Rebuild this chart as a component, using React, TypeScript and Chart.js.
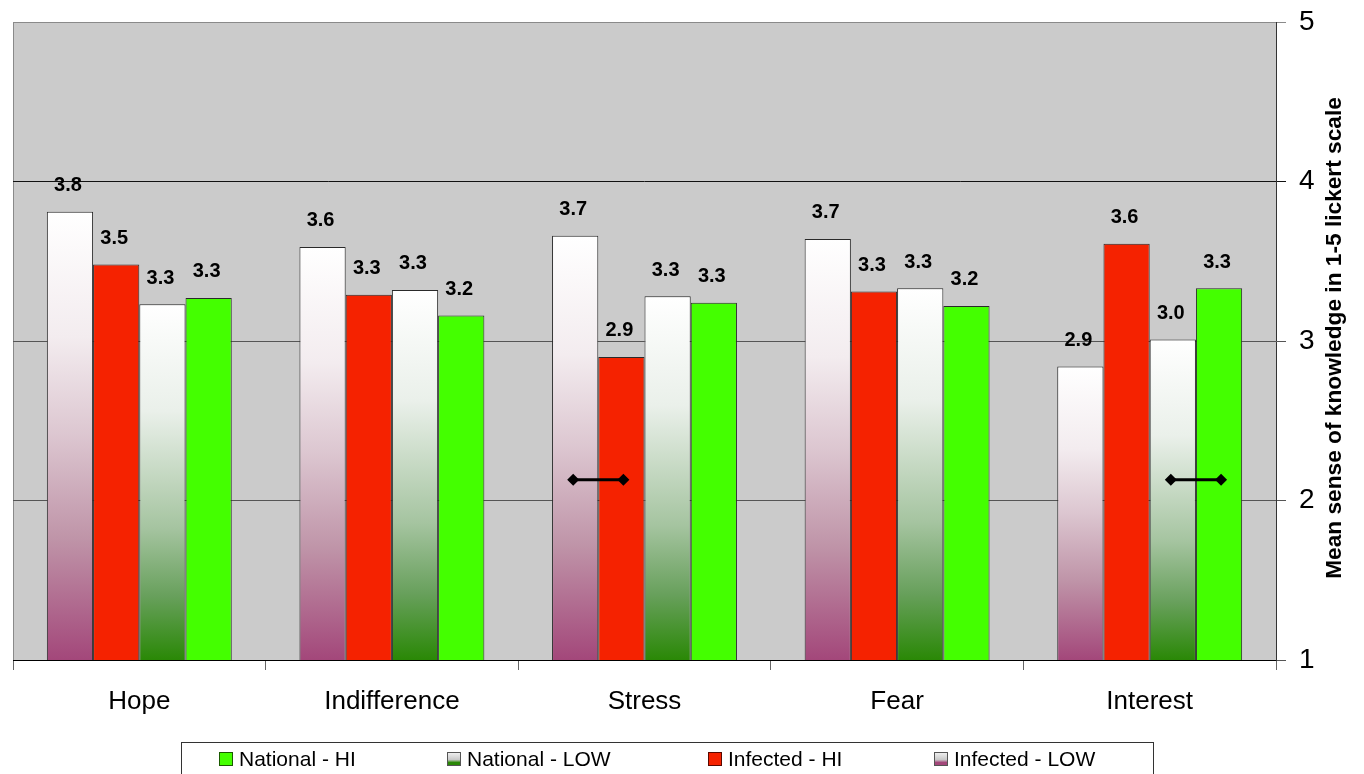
import React, { useEffect, useRef } from 'react';
import { Chart, registerables } from 'chart.js';

Chart.register(...registerables);

const categories = ['Hope', 'Indifference', 'Stress', 'Fear', 'Interest'];

const infectedLow = [3.81, 3.59, 3.66, 3.64, 2.84];
const infectedHi = [3.48, 3.29, 2.90, 3.31, 3.61];
const nationalLow = [3.23, 3.32, 3.28, 3.33, 3.01];
const nationalHi = [3.27, 3.16, 3.24, 3.22, 3.33];

const infectedLowLabels = ['3.8', '3.6', '3.7', '3.7', '2.9'];
const infectedHiLabels = ['3.5', '3.3', '2.9', '3.3', '3.6'];
const nationalLowLabels = ['3.3', '3.3', '3.3', '3.3', '3.0'];
const nationalHiLabels = ['3.3', '3.2', '3.3', '3.2', '3.3'];

const yTicks = [1, 2, 3, 4, 5];

// connector arrows (category index, from series, to series, value)
const arrowCategory = [2, 4];
const arrowFrom = [0, 2];
const arrowTo = [1, 3];
const arrowValue = [2.13, 2.13];

const FONT = "'Liberation Sans', Arial, sans-serif";

const purpleStops: [number, string][] = [
  [0, '#FFFFFF'],
  [0.28, '#F3ECEF'],
  [0.5, '#DCC6D0'],
  [0.73, '#BF94A8'],
  [1, '#A3477A'],
];
const greenStops: [number, string][] = [
  [0, '#FFFFFF'],
  [0.3, '#EAF0EA'],
  [0.63, '#A5C4A0'],
  [0.82, '#68A05C'],
  [1, '#2A8806'],
];

function gradientFill(stops: [number, string][], fallback: string) {
  return (ctx: any) => {
    const chart = ctx.chart;
    if (!chart.chartArea || ctx.type !== 'data') return fallback;
    const ys = chart.scales.y;
    if (!ys) return fallback;
    const top = ys.getPixelForValue(ctx.raw);
    const bot = ys.getPixelForValue(ys.min);
    if (!isFinite(top) || !isFinite(bot) || top === bot) return fallback;
    const g = chart.ctx.createLinearGradient(0, top, 0, bot);
    stops.forEach(([o, c]) => g.addColorStop(o, c));
    return g;
  };
}

const bgPlugin = {
  id: 'plotBg',
  beforeDraw(chart: any) {
    const { ctx, chartArea: a } = chart;
    ctx.save();
    ctx.fillStyle = '#CBCBCB';
    ctx.fillRect(a.left, a.top, a.right - a.left, a.bottom - a.top);
    ctx.strokeStyle = '#8A8A8A';
    ctx.lineWidth = 1;
    ctx.beginPath();
    ctx.moveTo(a.left + 0.5, a.bottom);
    ctx.lineTo(a.left + 0.5, a.top + 0.5);
    ctx.lineTo(a.right, a.top + 0.5);
    ctx.stroke();
    ctx.restore();
  },
};

const labelPlugin = {
  id: 'valueLabels',
  afterDatasetsDraw(chart: any) {
    const { ctx } = chart;
    ctx.save();
    ctx.font = `bold 20px ${FONT}`;
    ctx.fillStyle = '#000';
    ctx.textAlign = 'center';
    ctx.textBaseline = 'middle';
    chart.data.datasets.forEach((ds: any, i: number) => {
      const meta = chart.getDatasetMeta(i);
      meta.data.forEach((el: any, j: number) => {
        const { x, y } = el.getProps(['x', 'y'], true);
        ctx.fillText(ds.valueLabels[j], x - 2, y - 26);
      });
    });
    ctx.restore();
  },
};

function diamond(ctx: CanvasRenderingContext2D, x: number, y: number, r: number) {
  ctx.beginPath();
  ctx.moveTo(x - r, y);
  ctx.lineTo(x, y - r);
  ctx.lineTo(x + r, y);
  ctx.lineTo(x, y + r);
  ctx.closePath();
  ctx.fill();
}

const arrowPlugin = {
  id: 'arrows',
  afterDatasetsDraw(chart: any) {
    const { ctx } = chart;
    const ys = chart.scales.y;
    ctx.save();
    ctx.strokeStyle = '#000';
    ctx.fillStyle = '#000';
    ctx.lineWidth = 3;
    arrowCategory.forEach((c, k) => {
      const x1 = chart.getDatasetMeta(arrowFrom[k]).data[c].x - 2;
      const x2 = chart.getDatasetMeta(arrowTo[k]).data[c].x + 2;
      const y = ys.getPixelForValue(arrowValue[k]);
      ctx.beginPath();
      ctx.moveTo(x1, y);
      ctx.lineTo(x2, y);
      ctx.stroke();
      diamond(ctx, x1, y, 6);
      diamond(ctx, x2, y, 6);
    });
    ctx.restore();
  },
};

const titlePlugin = {
  id: 'yTitle',
  afterDraw(chart: any) {
    const { ctx, chartArea: a } = chart;
    ctx.save();
    ctx.translate(1335, (a.top + a.bottom) / 2 - 3);
    ctx.rotate(-Math.PI / 2);
    ctx.font = `bold 22.7px ${FONT}`;
    ctx.fillStyle = '#000';
    ctx.textAlign = 'center';
    ctx.textBaseline = 'middle';
    ctx.fillText('Mean sense of knowledge in 1-5 lickert scale', 0, 0);
    ctx.restore();
  },
};

const legendOrder = [3, 2, 1, 0];
const legendSwatchX = [219, 447, 708, 934];

const legendPlugin = {
  id: 'boxLegend',
  afterDraw(chart: any) {
    const { ctx } = chart;
    ctx.save();
    ctx.strokeStyle = '#333';
    ctx.lineWidth = 1;
    ctx.strokeRect(181.5, 742.5, 972, 60);
    ctx.font = `21px ${FONT}`;
    ctx.textBaseline = 'middle';
    ctx.textAlign = 'left';
    legendOrder.forEach((di, k) => {
      const ds = chart.data.datasets[di];
      const x = legendSwatchX[k];
      const y = 752;
      const s = 14;
      if (ds.swatchStops) {
        const g = ctx.createLinearGradient(0, y, 0, y + s);
        g.addColorStop(0, '#F4F4F4');
        g.addColorStop(0.55, '#C8C8C8');
        g.addColorStop(0.75, ds.swatchColor);
        g.addColorStop(1, ds.swatchColor);
        ctx.fillStyle = g;
      } else {
        ctx.fillStyle = ds.swatchColor;
      }
      ctx.fillRect(x, y, s, s);
      ctx.strokeStyle = ds.swatchBorder;
      ctx.lineWidth = 1;
      ctx.strokeRect(x + 0.5, y + 0.5, s - 1, s - 1);
      ctx.fillStyle = '#000';
      ctx.fillText(ds.label, x + 20, y + 8);
    });
    ctx.restore();
  },
};

export default function App() {
  const ref = useRef<HTMLCanvasElement | null>(null);

  useEffect(() => {
    if (!ref.current) return;
    const chart = new Chart(ref.current, {
      type: 'bar',
      data: {
        labels: categories,
        datasets: [
          {
            label: 'Infected - LOW',
            data: infectedLow,
            backgroundColor: gradientFill(purpleStops, '#D8B8C8'),
            borderColor: '#2A2A2A',
            borderWidth: 1,
            valueLabels: infectedLowLabels,
            swatchStops: true,
            swatchColor: '#A3477A',
            swatchBorder: '#555',
          } as any,
          {
            label: 'Infected - HI',
            data: infectedHi,
            backgroundColor: '#F52200',
            borderColor: '#2A2A2A',
            borderWidth: 1,
            valueLabels: infectedHiLabels,
            swatchColor: '#F52200',
            swatchBorder: '#5A0800',
          } as any,
          {
            label: 'National - LOW',
            data: nationalLow,
            backgroundColor: gradientFill(greenStops, '#B8D0B8'),
            borderColor: '#2A2A2A',
            borderWidth: 1,
            valueLabels: nationalLowLabels,
            swatchStops: true,
            swatchColor: '#2A8806',
            swatchBorder: '#555',
          } as any,
          {
            label: 'National - HI',
            data: nationalHi,
            backgroundColor: '#44FF00',
            borderColor: '#2A2A2A',
            borderWidth: 1,
            valueLabels: nationalHiLabels,
            swatchColor: '#44FF00',
            swatchBorder: '#1A5A00',
          } as any,
        ],
      },
      options: {
        animation: false,
        responsive: false,
        devicePixelRatio: 1,
        layout: { padding: { left: 13, top: 22, right: 0, bottom: 0 } },
        datasets: {
          bar: { categoryPercentage: 0.732, barPercentage: 1 },
        },
        plugins: {
          legend: { display: false },
          tooltip: { enabled: false },
          title: { display: false },
        },
        scales: {
          x: {
            type: 'category',
            offset: true,
            grid: {
              offset: true,
              drawOnChartArea: false,
              drawTicks: true,
              tickLength: 10,
              color: '#666',
            },
            border: { display: true, color: '#000', width: 1 },
            ticks: {
              color: '#000',
              font: { family: FONT, size: 26 },
              padding: 16,
              maxRotation: 0,
            },
            afterFit: (scale: any) => {
              scale.height = 114;
              scale.paddingLeft = 0;
              scale.paddingRight = 0;
            },
          },
          y: {
            position: 'right',
            min: 1,
            max: 5,
            afterBuildTicks: (scale: any) => {
              scale.ticks = yTicks.map((v) => ({ value: v }));
            },
            grid: {
              color: (c: any) => (c.tick && c.tick.value === 5 ? '#8A8A8A' : c.tick && c.tick.value === 4 ? '#111' : '#555'),
              tickLength: 10,
              drawTicks: true,
            },
            border: { display: true, color: '#333', width: 1 },
            ticks: {
              color: '#000',
              font: { family: FONT, size: 28 },
              padding: 13,
            },
            afterFit: (scale: any) => {
              scale.width = 88;
              scale.paddingTop = 0;
              scale.paddingBottom = 0;
            },
          },
        },
      } as any,
      plugins: [bgPlugin, labelPlugin, arrowPlugin, titlePlugin, legendPlugin],
    });
    return () => chart.destroy();
  }, []);

  return (
    <div style={{ position: 'fixed', left: 0, top: 0, width: 1364, height: 774, background: '#fff' }}>
      <canvas ref={ref} width={1364} height={774} style={{ width: 1364, height: 774, display: 'block' }} />
    </div>
  );
}
